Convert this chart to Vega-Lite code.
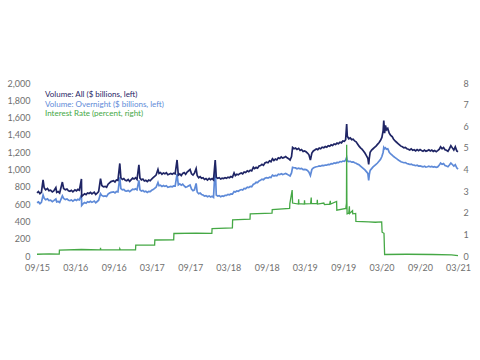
{
  "$schema": "https://vega.github.io/schema/vega-lite/v6.json",
  "width": 421,
  "height": 173,
  "autosize": {"type": "none"},
  "padding": {"left": 37, "top": 83, "right": 22, "bottom": 104},
  "background": "white",
  "config": {
    "view": {"stroke": null},
    "axis": {"domain": false, "ticks": false, "tickSize": 0, "grid": false, "labelFont": "Lato", "labelFontSize": 9, "labelColor": "#707070", "title": null, "labelOverlap": false}
  },
  "datasets": {
    "vol": [
      {"d":"2015-09-01","a":730,"o":615},{"d":"2015-09-08","a":745,"o":625},{"d":"2015-09-15","a":720,"o":605},{"d":"2015-09-22","a":735,"o":620},{"d":"2015-09-30","a":880,"o":705},
      {"d":"2015-10-05","a":790,"o":670},{"d":"2015-10-12","a":765,"o":650},{"d":"2015-10-21","a":780,"o":660},{"d":"2015-10-28","a":755,"o":640},
      {"d":"2015-11-05","a":760,"o":645},{"d":"2015-11-13","a":740,"o":628},{"d":"2015-11-20","a":752,"o":640},{"d":"2015-11-30","a":790,"o":660},
      {"d":"2015-12-04","a":735,"o":625},{"d":"2015-12-11","a":745,"o":630},{"d":"2015-12-18","a":728,"o":618},{"d":"2015-12-31","a":855,"o":695},
      {"d":"2016-01-06","a":780,"o":665},{"d":"2016-01-14","a":765,"o":652},{"d":"2016-01-22","a":775,"o":660},{"d":"2016-01-29","a":755,"o":645},
      {"d":"2016-02-05","a":748,"o":640},{"d":"2016-02-12","a":760,"o":648},{"d":"2016-02-19","a":742,"o":635},{"d":"2016-02-29","a":765,"o":652},
      {"d":"2016-03-07","a":752,"o":642},{"d":"2016-03-14","a":770,"o":655},{"d":"2016-03-21","a":760,"o":648},{"d":"2016-03-31","a":890,"o":705},
      {"d":"2016-04-01","a":690,"o":585},{"d":"2016-04-08","a":705,"o":605},{"d":"2016-04-15","a":720,"o":618},{"d":"2016-04-22","a":710,"o":610},{"d":"2016-04-29","a":728,"o":628},
      {"d":"2016-05-06","a":722,"o":622},{"d":"2016-05-13","a":735,"o":632},{"d":"2016-05-20","a":718,"o":620},{"d":"2016-05-31","a":738,"o":635},
      {"d":"2016-06-07","a":712,"o":615},{"d":"2016-06-14","a":728,"o":630},{"d":"2016-06-21","a":745,"o":645},{"d":"2016-06-30","a":895,"o":720},
      {"d":"2016-07-06","a":815,"o":700},{"d":"2016-07-14","a":800,"o":690},{"d":"2016-07-22","a":805,"o":695},{"d":"2016-07-29","a":795,"o":688},
      {"d":"2016-08-05","a":830,"o":715},{"d":"2016-08-12","a":845,"o":728},{"d":"2016-08-19","a":860,"o":735},{"d":"2016-08-31","a":870,"o":742},
      {"d":"2016-09-07","a":855,"o":730},{"d":"2016-09-14","a":880,"o":745},{"d":"2016-09-21","a":875,"o":740},{"d":"2016-09-30","a":1070,"o":910},
      {"d":"2016-10-05","a":905,"o":780},{"d":"2016-10-12","a":885,"o":765},{"d":"2016-10-19","a":895,"o":770},{"d":"2016-10-26","a":875,"o":752},
      {"d":"2016-11-02","a":870,"o":750},{"d":"2016-11-09","a":885,"o":758},{"d":"2016-11-16","a":862,"o":745},{"d":"2016-11-30","a":900,"o":772},
      {"d":"2016-12-07","a":890,"o":768},{"d":"2016-12-14","a":905,"o":778},{"d":"2016-12-21","a":885,"o":765},{"d":"2016-12-30","a":1055,"o":875},
      {"d":"2017-01-04","a":900,"o":765},{"d":"2017-01-11","a":880,"o":752},{"d":"2017-01-18","a":890,"o":758},{"d":"2017-01-25","a":868,"o":742},
      {"d":"2017-02-01","a":875,"o":748},{"d":"2017-02-08","a":860,"o":735},{"d":"2017-02-15","a":878,"o":748},{"d":"2017-02-22","a":870,"o":745},
      {"d":"2017-03-01","a":890,"o":760},{"d":"2017-03-08","a":905,"o":768},{"d":"2017-03-15","a":920,"o":782},{"d":"2017-03-22","a":935,"o":795},{"d":"2017-03-31","a":1000,"o":850},
      {"d":"2017-04-05","a":955,"o":812},{"d":"2017-04-12","a":965,"o":818},{"d":"2017-04-19","a":945,"o":805},{"d":"2017-04-26","a":960,"o":815},
      {"d":"2017-05-03","a":950,"o":805},{"d":"2017-05-10","a":962,"o":812},{"d":"2017-05-17","a":940,"o":795},{"d":"2017-05-31","a":955,"o":805},
      {"d":"2017-06-07","a":945,"o":800},{"d":"2017-06-14","a":958,"o":810},{"d":"2017-06-21","a":950,"o":808},{"d":"2017-06-30","a":1110,"o":950},
      {"d":"2017-07-06","a":935,"o":822},{"d":"2017-07-13","a":948,"o":835},{"d":"2017-07-20","a":930,"o":818},{"d":"2017-07-27","a":955,"o":830},
      {"d":"2017-08-03","a":965,"o":810},{"d":"2017-08-10","a":945,"o":795},{"d":"2017-08-17","a":970,"o":800},{"d":"2017-08-31","a":1000,"o":820},
      {"d":"2017-09-07","a":950,"o":775},{"d":"2017-09-14","a":935,"o":755},{"d":"2017-09-21","a":958,"o":765},{"d":"2017-09-29","a":1010,"o":840},
      {"d":"2017-10-04","a":930,"o":740},{"d":"2017-10-11","a":905,"o":720},{"d":"2017-10-18","a":918,"o":728},{"d":"2017-10-25","a":898,"o":712},
      {"d":"2017-11-01","a":905,"o":705},{"d":"2017-11-08","a":885,"o":692},{"d":"2017-11-15","a":895,"o":698},{"d":"2017-11-22","a":878,"o":685},{"d":"2017-11-30","a":898,"o":695},
      {"d":"2017-12-07","a":882,"o":682},{"d":"2017-12-14","a":895,"o":690},{"d":"2017-12-21","a":880,"o":678},{"d":"2017-12-29","a":1110,"o":1045},
      {"d":"2018-01-03","a":910,"o":705},{"d":"2018-01-10","a":898,"o":692},{"d":"2018-01-17","a":905,"o":698},{"d":"2018-01-24","a":890,"o":686},{"d":"2018-01-31","a":900,"o":694},
      {"d":"2018-02-07","a":895,"o":690},{"d":"2018-02-14","a":906,"o":702},{"d":"2018-02-21","a":898,"o":700},{"d":"2018-02-28","a":912,"o":712},
      {"d":"2018-03-07","a":905,"o":708},{"d":"2018-03-14","a":918,"o":718},{"d":"2018-03-21","a":910,"o":715},{"d":"2018-03-29","a":960,"o":745},
      {"d":"2018-04-04","a":930,"o":740},{"d":"2018-04-11","a":945,"o":752},{"d":"2018-04-18","a":938,"o":748},{"d":"2018-04-25","a":952,"o":760},
      {"d":"2018-05-02","a":960,"o":768},{"d":"2018-05-09","a":950,"o":762},{"d":"2018-05-16","a":972,"o":782},{"d":"2018-05-23","a":965,"o":778},{"d":"2018-05-31","a":985,"o":795},
      {"d":"2018-06-07","a":975,"o":790},{"d":"2018-06-14","a":992,"o":805},{"d":"2018-06-21","a":985,"o":800},{"d":"2018-06-29","a":1025,"o":830},
      {"d":"2018-07-05","a":1010,"o":835},{"d":"2018-07-12","a":1025,"o":852},{"d":"2018-07-19","a":1015,"o":848},{"d":"2018-07-26","a":1040,"o":868},
      {"d":"2018-08-02","a":1045,"o":875},{"d":"2018-08-09","a":1060,"o":888},{"d":"2018-08-16","a":1048,"o":882},{"d":"2018-08-23","a":1075,"o":898},{"d":"2018-08-31","a":1085,"o":905},
      {"d":"2018-09-07","a":1078,"o":900},{"d":"2018-09-14","a":1100,"o":912},{"d":"2018-09-21","a":1090,"o":908},{"d":"2018-09-28","a":1125,"o":935},
      {"d":"2018-10-05","a":1105,"o":925},{"d":"2018-10-12","a":1120,"o":932},{"d":"2018-10-19","a":1110,"o":928},{"d":"2018-10-26","a":1135,"o":945},
      {"d":"2018-11-02","a":1128,"o":940},{"d":"2018-11-09","a":1145,"o":952},{"d":"2018-11-16","a":1132,"o":942},{"d":"2018-11-23","a":1140,"o":948},{"d":"2018-11-30","a":1150,"o":955},
      {"d":"2018-12-07","a":1135,"o":945},{"d":"2018-12-14","a":1125,"o":935},{"d":"2018-12-21","a":1110,"o":925},{"d":"2018-12-28","a":1150,"o":960},
      {"d":"2019-01-02","a":1255,"o":1025},{"d":"2019-01-09","a":1240,"o":1020},{"d":"2019-01-16","a":1248,"o":1018},{"d":"2019-01-23","a":1232,"o":1008},{"d":"2019-01-31","a":1245,"o":1015},
      {"d":"2019-02-07","a":1220,"o":1008},{"d":"2019-02-14","a":1230,"o":1012},{"d":"2019-02-21","a":1208,"o":998},{"d":"2019-02-28","a":1215,"o":1002},
      {"d":"2019-03-07","a":1205,"o":998},{"d":"2019-03-14","a":1190,"o":990},{"d":"2019-03-21","a":1170,"o":970},{"d":"2019-03-28","a":1110,"o":930},
      {"d":"2019-04-04","a":1190,"o":1000},{"d":"2019-04-11","a":1215,"o":1018},{"d":"2019-04-18","a":1225,"o":1025},{"d":"2019-04-25","a":1238,"o":1032},
      {"d":"2019-05-02","a":1230,"o":1035},{"d":"2019-05-09","a":1248,"o":1042},{"d":"2019-05-16","a":1240,"o":1038},{"d":"2019-05-23","a":1258,"o":1048},{"d":"2019-05-31","a":1252,"o":1045},
      {"d":"2019-06-07","a":1265,"o":1052},{"d":"2019-06-14","a":1258,"o":1050},{"d":"2019-06-21","a":1275,"o":1060},{"d":"2019-06-28","a":1268,"o":1056},
      {"d":"2019-07-05","a":1285,"o":1068},{"d":"2019-07-12","a":1278,"o":1065},{"d":"2019-07-19","a":1295,"o":1075},{"d":"2019-07-26","a":1288,"o":1072},
      {"d":"2019-08-02","a":1305,"o":1082},{"d":"2019-08-09","a":1298,"o":1080},{"d":"2019-08-16","a":1315,"o":1092},{"d":"2019-08-23","a":1308,"o":1088},{"d":"2019-08-30","a":1330,"o":1098},
      {"d":"2019-09-06","a":1325,"o":1095},{"d":"2019-09-12","a":1345,"o":1108},{"d":"2019-09-17","a":1525,"o":1140},{"d":"2019-09-20","a":1385,"o":1100},{"d":"2019-09-27","a":1355,"o":1092},
      {"d":"2019-10-04","a":1365,"o":1095},{"d":"2019-10-11","a":1345,"o":1085},{"d":"2019-10-18","a":1350,"o":1088},{"d":"2019-10-25","a":1330,"o":1078},
      {"d":"2019-11-01","a":1320,"o":1072},{"d":"2019-11-08","a":1295,"o":1062},{"d":"2019-11-15","a":1270,"o":1055},{"d":"2019-11-22","a":1250,"o":1040},{"d":"2019-11-29","a":1235,"o":1025},
      {"d":"2019-12-06","a":1215,"o":1010},{"d":"2019-12-13","a":1190,"o":995},{"d":"2019-12-20","a":1160,"o":975},{"d":"2019-12-27","a":1130,"o":955},{"d":"2019-12-31","a":1060,"o":875},
      {"d":"2020-01-03","a":1130,"o":940},{"d":"2020-01-07","a":1200,"o":990},{"d":"2020-01-14","a":1225,"o":1010},{"d":"2020-01-21","a":1240,"o":1030},{"d":"2020-01-28","a":1255,"o":1045},
      {"d":"2020-02-04","a":1270,"o":1060},{"d":"2020-02-11","a":1290,"o":1075},{"d":"2020-02-18","a":1310,"o":1095},{"d":"2020-02-25","a":1335,"o":1115},
      {"d":"2020-03-03","a":1370,"o":1150},{"d":"2020-03-09","a":1450,"o":1200},{"d":"2020-03-12","a":1565,"o":1255},{"d":"2020-03-16","a":1420,"o":1240},{"d":"2020-03-20","a":1510,"o":1250},{"d":"2020-03-25","a":1460,"o":1235},{"d":"2020-03-31","a":1475,"o":1240},
      {"d":"2020-04-07","a":1420,"o":1200},{"d":"2020-04-14","a":1395,"o":1180},{"d":"2020-04-21","a":1380,"o":1165},{"d":"2020-04-28","a":1350,"o":1150},
      {"d":"2020-05-05","a":1330,"o":1138},{"d":"2020-05-12","a":1315,"o":1125},{"d":"2020-05-19","a":1300,"o":1112},{"d":"2020-05-26","a":1285,"o":1100},
      {"d":"2020-06-02","a":1270,"o":1090},{"d":"2020-06-09","a":1262,"o":1084},{"d":"2020-06-16","a":1250,"o":1078},{"d":"2020-06-23","a":1255,"o":1080},{"d":"2020-06-30","a":1240,"o":1070},
      {"d":"2020-07-07","a":1235,"o":1065},{"d":"2020-07-14","a":1225,"o":1058},{"d":"2020-07-21","a":1238,"o":1062},{"d":"2020-07-28","a":1222,"o":1052},
      {"d":"2020-08-04","a":1228,"o":1050},{"d":"2020-08-11","a":1215,"o":1044},{"d":"2020-08-18","a":1230,"o":1050},{"d":"2020-08-25","a":1218,"o":1040},
      {"d":"2020-09-01","a":1230,"o":1042},{"d":"2020-09-08","a":1220,"o":1036},{"d":"2020-09-15","a":1212,"o":1030},{"d":"2020-09-22","a":1225,"o":1038},{"d":"2020-09-29","a":1210,"o":1028},
      {"d":"2020-10-06","a":1218,"o":1032},{"d":"2020-10-13","a":1228,"o":1038},{"d":"2020-10-20","a":1215,"o":1030},{"d":"2020-10-27","a":1225,"o":1036},
      {"d":"2020-11-03","a":1210,"o":1028},{"d":"2020-11-10","a":1220,"o":1032},{"d":"2020-11-17","a":1205,"o":1024},{"d":"2020-11-24","a":1218,"o":1030},
      {"d":"2020-12-01","a":1232,"o":1048},{"d":"2020-12-08","a":1262,"o":1075},{"d":"2020-12-15","a":1240,"o":1060},{"d":"2020-12-22","a":1255,"o":1068},{"d":"2020-12-29","a":1228,"o":1045},
      {"d":"2021-01-05","a":1222,"o":1040},{"d":"2021-01-12","a":1210,"o":1032},{"d":"2021-01-19","a":1240,"o":1052},{"d":"2021-01-26","a":1275,"o":1075},
      {"d":"2021-02-02","a":1250,"o":1058},{"d":"2021-02-09","a":1225,"o":1040},{"d":"2021-02-16","a":1262,"o":1055},{"d":"2021-02-23","a":1215,"o":1020},{"d":"2021-03-01","a":1205,"o":1005}
    ],
    "rate": [
      {"d":"2015-09-01","r":0.08},{"d":"2015-10-30","r":0.1},{"d":"2015-12-16","r":0.09},{"d":"2015-12-17","r":0.27},
      {"d":"2016-03-31","r":0.3},{"d":"2016-06-29","r":0.28},{"d":"2016-06-30","r":0.38},{"d":"2016-07-01","r":0.29},
      {"d":"2016-09-29","r":0.28},{"d":"2016-09-30","r":0.34},{"d":"2016-10-03","r":0.28},{"d":"2016-12-14","r":0.28},{"d":"2016-12-15","r":0.5},
      {"d":"2017-03-15","r":0.5},{"d":"2017-03-16","r":0.74},{"d":"2017-06-14","r":0.75},{"d":"2017-06-15","r":1.04},
      {"d":"2017-09-29","r":1.06},{"d":"2017-12-13","r":1.05},{"d":"2017-12-14","r":1.27},{"d":"2018-03-21","r":1.3},{"d":"2018-03-22","r":1.67},
      {"d":"2018-06-13","r":1.7},{"d":"2018-06-14","r":1.95},{"d":"2018-09-26","r":1.98},{"d":"2018-09-27","r":2.15},
      {"d":"2018-12-19","r":2.2},{"d":"2018-12-20","r":2.42},{"d":"2018-12-31","r":3.05},{"d":"2019-01-02","r":2.45},
      {"d":"2019-01-30","r":2.4},{"d":"2019-01-31","r":2.62},{"d":"2019-02-01","r":2.42},{"d":"2019-02-27","r":2.4},{"d":"2019-02-28","r":2.58},{"d":"2019-03-01","r":2.41},
      {"d":"2019-03-29","r":2.42},{"d":"2019-04-01","r":2.7},{"d":"2019-04-02","r":2.43},{"d":"2019-04-29","r":2.42},{"d":"2019-04-30","r":2.6},{"d":"2019-05-01","r":2.4},
      {"d":"2019-05-31","r":2.45},{"d":"2019-06-03","r":2.38},{"d":"2019-06-28","r":2.4},{"d":"2019-07-01","r":2.55},{"d":"2019-07-02","r":2.4},
      {"d":"2019-07-31","r":2.52},{"d":"2019-08-01","r":2.12},{"d":"2019-09-13","r":2.2},{"d":"2019-09-16","r":2.45},{"d":"2019-09-17","r":5.15},{"d":"2019-09-18","r":2.6},
      {"d":"2019-09-19","r":1.95},{"d":"2019-09-27","r":1.98},{"d":"2019-09-30","r":2.3},{"d":"2019-10-01","r":1.97},{"d":"2019-10-15","r":2.1},{"d":"2019-10-16","r":1.95},
      {"d":"2019-10-30","r":1.97},{"d":"2019-10-31","r":1.6},{"d":"2019-12-31","r":1.58},{"d":"2020-01-31","r":1.56},{"d":"2020-03-02","r":1.58},
      {"d":"2020-03-04","r":1.1},{"d":"2020-03-13","r":1.05},{"d":"2020-03-16","r":0.07},{"d":"2020-06-30","r":0.08},{"d":"2020-10-30","r":0.07},
      {"d":"2021-01-29","r":0.05},{"d":"2021-03-01","r":0.02}
    ]
  },
  "encoding": {
    "x": {"field": "d", "type": "temporal",
          "scale": {"domain": ["2015-09-01", "2021-03-01"]},
          "axis": {"format": "%m/%y", "labelPadding": 7, "labelFlush": false, "labelOverlap": false, "labelBound": false,
                   "values": ["2015-09-01", "2016-03-01", "2016-09-01", "2017-03-01", "2017-09-01", "2018-03-01", "2018-09-01", "2019-03-01", "2019-09-01", "2020-03-01", "2020-09-01", "2021-03-01"]}}
  },
  "layer": [
    {
      "data": {"name": "vol"},
      "transform": [{"fold": ["o", "a"], "as": ["s", "v"]}],
      "mark": {"type": "line", "strokeWidth": 1.7, "interpolate": "linear"},
      "encoding": {
        "y": {"field": "v", "type": "quantitative",
              "scale": {"domain": [0, 2000]},
              "axis": {"orient": "left", "values": [0,200,400,600,800,1000,1200,1400,1600,1800,2000], "format": ",.0f", "labelPadding": 7}},
        "color": {"field": "s", "type": "nominal",
                  "scale": {"domain": ["a", "o", "r"], "range": ["#1f2565", "#5e8ad8", "#45a845"]},
                  "legend": {"orient": "none", "legendX": 0, "legendY": 8, "title": null,
                             "symbolSize": 0, "symbolStrokeWidth": 0, "symbolOpacity": 0,
                             "labelFont": "Lato", "labelFontSize": 8, "rowPadding": 1.5, "labelOffset": 0,
                             "labelColor": {"expr": "scale('color', datum.value)"},
                             "labelExpr": "datum.label == 'a' ? 'Volume: All ($ billions, left)' : datum.label == 'o' ? 'Volume: Overnight ($ billions, left)' : 'Interest Rate (percent, right)'"}},
        "order": {"field": "s", "sort": "descending"}
      }
    },
    {
      "data": {"name": "rate"},
      "mark": {"type": "line", "strokeWidth": 1.3},
      "encoding": {
        "y": {"field": "r", "type": "quantitative",
              "scale": {"domain": [0, 8]},
              "axis": {"orient": "right", "values": [0,1,2,3,4,5,6,7,8], "labelPadding": 5}},
        "color": {"datum": "r", "type": "nominal"}
      }
    }
  ],
  "resolve": {"scale": {"y": "independent"}}
}
